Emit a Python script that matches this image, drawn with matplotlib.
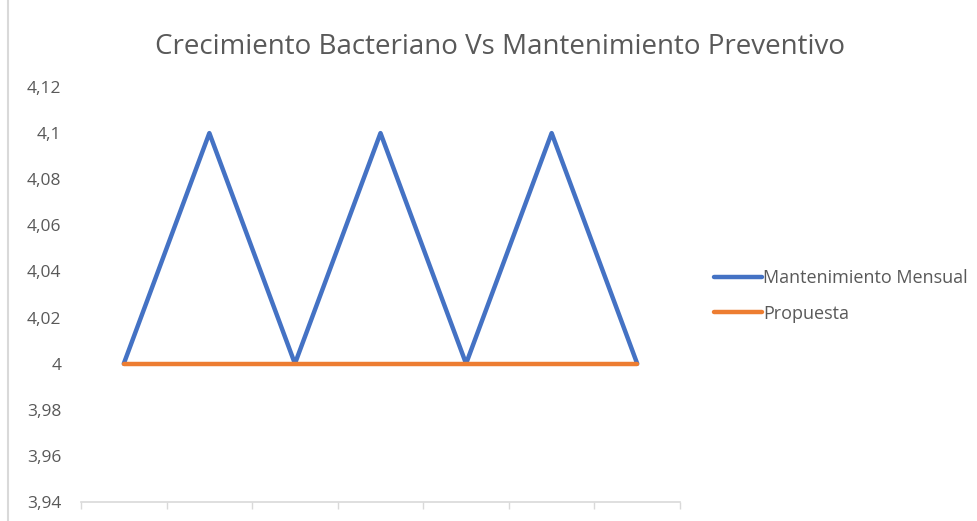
import matplotlib.pyplot as plt
from matplotlib.ticker import FuncFormatter, FixedLocator
from matplotlib.lines import Line2D
import numpy as np

# data
categorias = [1, 2, 3, 4, 5, 6, 7]
mantenimiento_mensual = [4.0, 4.1, 4.0, 4.1, 4.0, 4.1, 4.0]
propuesta = [4.0, 4.0, 4.0, 4.0, 4.0, 4.0, 4.0]
y_ticks = [3.94, 3.96, 3.98, 4.0, 4.02, 4.04, 4.06, 4.08, 4.1, 4.12]

plt.rcParams['font.family'] = ['Open Sans', 'DejaVu Sans']

fig = plt.figure(figsize=(9.78, 5.21), dpi=100)
ax = fig.add_axes([81 / 978, 1 - 502 / 521, (680 - 81) / 978, (502 - 87) / 521])

x = np.arange(len(categorias))
ax.plot(x, mantenimiento_mensual, color='#4472C4', lw=3.2, label='Mantenimiento Mensual',
        solid_joinstyle='round', solid_capstyle='round')
ax.plot(x, propuesta, color='#ED7D31', lw=3.2, label='Propuesta',
        solid_joinstyle='round', solid_capstyle='round')

ax.set_xlim(-0.5, len(categorias) - 0.5)
ax.set_ylim(3.94, 4.12)
ax.yaxis.set_major_locator(FixedLocator(y_ticks))
ax.yaxis.set_major_formatter(FuncFormatter(lambda v, p: ('%g' % round(v, 2)).replace('.', ',')))
ax.tick_params(axis='y', length=0, pad=14, labelsize=12.5, labelcolor='#595959')

# category boundaries ticks on x axis
ax.xaxis.set_major_locator(FixedLocator(np.arange(-0.5, len(categorias))))
ax.xaxis.set_major_formatter(FuncFormatter(lambda v, p: ''))
ax.tick_params(axis='x', direction='out', length=5, width=1, color='#D9D9D9')

for s in ['top', 'right', 'left']:
    ax.spines[s].set_visible(False)
ax.spines['bottom'].set_color('#D9D9D9')
ax.spines['bottom'].set_linewidth(1.2)

fig.text(500 / 978, 1 - 47 / 521, 'Crecimiento Bacteriano Vs Mantenimiento Preventivo',
         ha='center', va='center', fontsize=20, color='#595959')

fig.legend(loc='center left', bbox_to_anchor=(698 / 978, 1 - 296 / 521), frameon=False,
           fontsize=13, labelcolor='#595959', handlelength=2.65, handletextpad=0.05,
           labelspacing=0.95)

# chart border on the left
fig.add_artist(Line2D([8 / 978, 8 / 978], [0, 1], color='#D9D9D9', lw=1.5))

fig.savefig('out.png', dpi=100)
